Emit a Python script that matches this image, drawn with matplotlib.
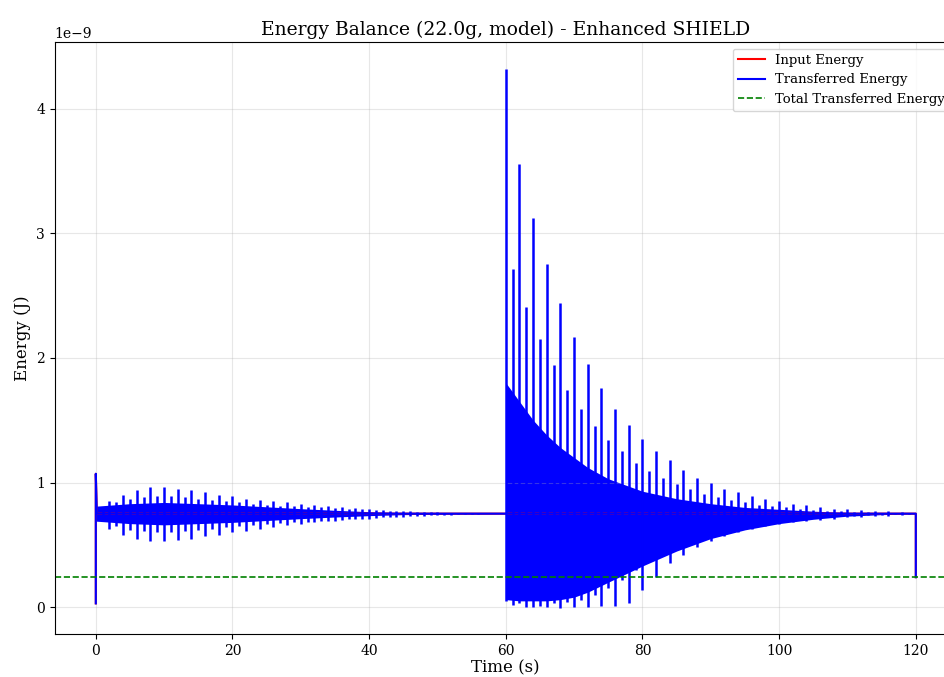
import matplotlib
import matplotlib.pyplot as plt
import numpy as np

plt.switch_backend('agg')
plt.rcParams['font.family'] = ['DejaVu Serif']

# energy values in 1e-9 J
# overall trace (start jump, settled level, final drop)
trace_t = [0.0, 0.0, 0.15, 60.0, 60.0, 120.0, 120.0]
trace_e = [0.03, 1.07, 0.75, 0.75, 0.75, 0.75, 0.24]

# solid core of the fast oscillation
core_t = [0, 5, 10, 15, 20, 25, 30, 35, 40, 45, 50, 55, 60,
          60, 62, 64, 66, 68, 70, 72, 75, 80, 85, 90, 95, 100, 105, 110, 115, 120]
core_hi = [0.81, 0.83, 0.84, 0.83, 0.82, 0.805, 0.79, 0.777, 0.766, 0.758, 0.754, 0.752, 0.75,
           1.80, 1.65, 1.50, 1.38, 1.28, 1.20, 1.12, 1.03, 0.93, 0.87, 0.83, 0.80, 0.785, 0.77, 0.76, 0.755, 0.75]
core_lo = [0.69, 0.67, 0.66, 0.67, 0.68, 0.695, 0.71, 0.723, 0.734, 0.742, 0.746, 0.748, 0.75,
           0.06, 0.05, 0.05, 0.05, 0.06, 0.08, 0.12, 0.20, 0.33, 0.45, 0.55, 0.62, 0.67, 0.705, 0.73, 0.742, 0.75]

# beat peaks, first half (t = 1..56 s)
peak_a_t = list(range(1, 57))
peak_a_hi = [0.80, 0.85, 0.84, 0.90, 0.87, 0.94, 0.88, 0.96, 0.89, 0.96,
             0.89, 0.95, 0.88, 0.94, 0.87, 0.92, 0.86, 0.90, 0.85, 0.89,
             0.84, 0.87, 0.83, 0.86, 0.82, 0.85, 0.815, 0.84, 0.81, 0.83,
             0.805, 0.82, 0.80, 0.81, 0.795, 0.80, 0.79, 0.795, 0.785, 0.79,
             0.78, 0.78, 0.775, 0.775, 0.77, 0.77, 0.765, 0.767, 0.762, 0.762,
             0.758, 0.758, 0.755, 0.755, 0.752, 0.752]
peak_a_lo = [0.70, 0.63, 0.65, 0.58, 0.62, 0.55, 0.61, 0.53, 0.60, 0.53,
             0.60, 0.54, 0.61, 0.55, 0.62, 0.57, 0.63, 0.58, 0.64, 0.60,
             0.65, 0.61, 0.66, 0.63, 0.67, 0.64, 0.675, 0.66, 0.68, 0.67,
             0.685, 0.68, 0.69, 0.69, 0.695, 0.70, 0.705, 0.705, 0.71, 0.71,
             0.715, 0.72, 0.72, 0.725, 0.727, 0.73, 0.733, 0.733, 0.737, 0.738,
             0.74, 0.742, 0.744, 0.745, 0.747, 0.748]

# beat peaks, second half (t = 60..119 s)
peak_b_t = list(range(60, 120))
peak_b_hi = [4.32, 2.71, 3.56, 2.41, 3.12, 2.15, 2.75, 1.94, 2.44, 1.74,
             2.17, 1.59, 1.95, 1.45, 1.76, 1.34, 1.59, 1.25, 1.46, 1.16,
             1.35, 1.09, 1.25, 1.04, 1.18, 0.99, 1.10, 0.95, 1.04, 0.91,
             1.00, 0.88, 0.95, 0.86, 0.92, 0.84, 0.89, 0.82, 0.87, 0.81,
             0.85, 0.80, 0.83, 0.79, 0.82, 0.78, 0.80, 0.775, 0.79, 0.77,
             0.785, 0.765, 0.78, 0.76, 0.775, 0.757, 0.77, 0.755, 0.765, 0.752]
peak_b_lo = [0.05, 0.02, 0.03, 0.00, 0.00, 0.01, 0.00, 0.03, -0.01, 0.04,
             0.00, 0.06, 0.00, 0.10, 0.01, 0.15, 0.01, 0.22, 0.03, 0.30,
             0.14, 0.38, 0.24, 0.44, 0.35, 0.50, 0.42, 0.55, 0.48, 0.59,
             0.53, 0.62, 0.57, 0.64, 0.60, 0.66, 0.63, 0.68, 0.65, 0.69,
             0.67, 0.70, 0.68, 0.71, 0.69, 0.72, 0.70, 0.725, 0.71, 0.73,
             0.72, 0.735, 0.725, 0.74, 0.73, 0.742, 0.735, 0.745, 0.74, 0.747]

total_transferred = 0.24

scale = 1e-9

fig = plt.figure(figsize=(9.45, 6.77), dpi=100)
ax = fig.add_axes([0.058, 0.0635, 0.9545, 0.8745])

ax.plot(trace_t, np.array(trace_e) * scale, color='red', lw=1.5, label='Input Energy')
ax.fill_between(core_t, np.array(core_lo) * scale, np.array(core_hi) * scale,
                color='blue', lw=0)
ax.vlines(peak_a_t, np.array(peak_a_lo) * scale, np.array(peak_a_hi) * scale,
          color='blue', lw=1.8)
ax.vlines(peak_b_t, np.array(peak_b_lo) * scale, np.array(peak_b_hi) * scale,
          color='blue', lw=1.8)
ax.plot(trace_t, np.array(trace_e) * scale, color='blue', lw=1.5, label='Transferred Energy')
ax.axhline(total_transferred * scale, color='green', ls='--', lw=1.2,
           label='Total Transferred Energy')

ax.set_xlim(-6, 126)
ax.set_ylim(-0.216e-9, 4.536e-9)
ax.set_title('Energy Balance (22.0g, model) - Enhanced SHIELD', fontsize=13.5, pad=5)
ax.set_xlabel('Time (s)', fontsize=12, labelpad=1)
ax.set_ylabel('Energy (J)', fontsize=12)
ax.tick_params(labelsize=10)
ax.grid(True, alpha=0.3)
ax.legend(loc='upper right', fontsize=9.5)

plt.savefig('out.png', dpi=100)
